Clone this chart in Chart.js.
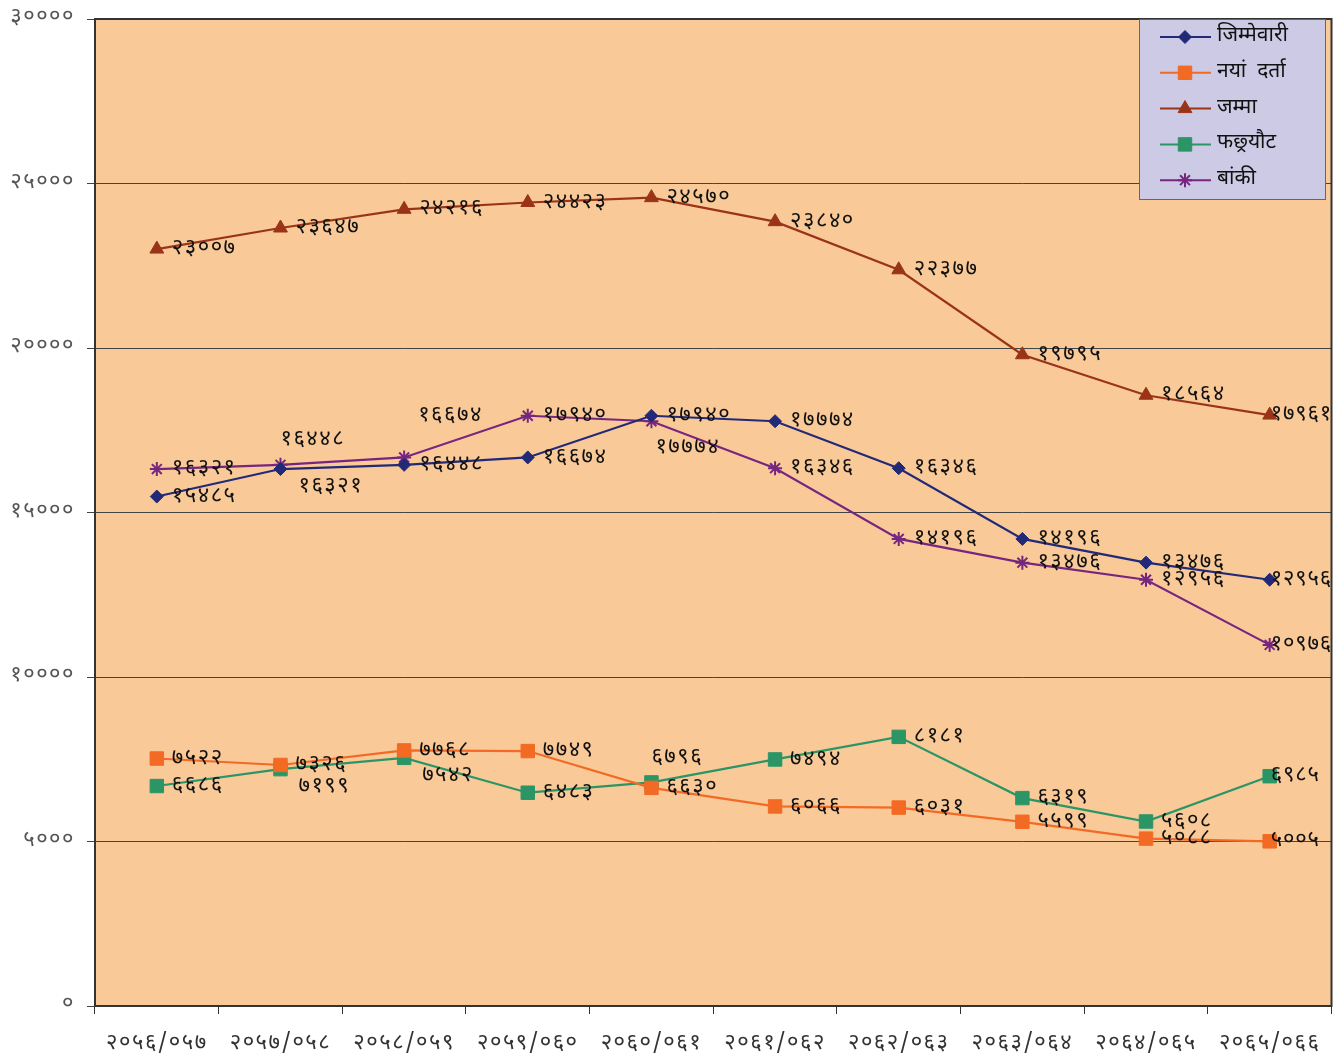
<!DOCTYPE html>
<html>
<head>
<meta charset="utf-8">
<script src="https://cdn.jsdelivr.net/npm/chart.js@4.4.1/dist/chart.umd.min.js"></script>
<style>
html,body{margin:0;padding:0;background:#ffffff;}
canvas{display:block;}
</style>
</head>
<body>
<canvas id="c" width="1342" height="1055"></canvas>
<script>
const categories = ['२०५६/०५७','२०५७/०५८','२०५८/०५९','२०५९/०६०','२०६०/०६१','२०६१/०६२','२०६२/०६३','२०६३/०६४','२०६४/०६५','२०६५/०६६'];
const seriesNames = ['जिम्मेवारी','नयां  दर्ता','जम्मा','फछ्र्यौट','बांकी'];
const jimmewari = [15485,16321,16448,16674,17940,17774,16346,14196,13476,12956];
const nayaDarta = [7522,7326,7768,7749,6630,6066,6031,5599,5088,5005];
const jamma     = [23007,23647,24216,24423,24570,23840,22377,19795,18564,17961];
const phachhyaut= [6686,7199,7542,6483,6796,7494,8181,6319,5608,6985];
const banki     = [16321,16448,16674,17940,17774,16346,14196,13476,12956,10976];
const yTicks = [0,5000,10000,15000,20000,25000,30000];

const DEV = '०१२३४५६७८९';
function toDev(v){ return String(v).replace(/[0-9]/g, d => DEV[+d]); }

const FONT = "'Noto Sans Devanagari','Lohit Devanagari','Noto Sans','DejaVu Sans',sans-serif";

// label placement codes (style only)
const labelPos = [
  ['r','b','r','r','r','r','r','r','r','e'],
  ['r','r','r','r','r','r','r','r','r','e'],
  ['r','r','r','r','r','r','r','r','r','e'],
  ['r','b','b','r','a','r','r','r','r','e'],
  ['r','a','a2','r','b2','r','r','r','r','e']
];
const offsets = {
  r:[15,1], e:[1,1], b:[18,19], b2:[4,28], a:[0,-24], a2:[14,-41]
};

const colors = ['#222a78','#f26a24','#9a3418','#2b9566','#76267f'];
const styles = ['rectRot','rect','triangle','rect','star'];
const radii = [6.5,9.5,8,9.5,7];
const values = [jimmewari,nayaDarta,jamma,phachhyaut,banki];

const datasets = values.map((v,i)=>({
  label: seriesNames[i],
  data: v,
  borderColor: colors[i],
  backgroundColor: colors[i],
  pointBackgroundColor: colors[i],
  pointBorderColor: colors[i],
  pointStyle: styles[i],
  pointRadius: radii[i],
  pointHoverRadius: radii[i],
  pointBorderWidth: styles[i]==='star' ? 2 : 1,
  borderWidth: 2.2,
  tension: 0,
  fill: false
}));

const bgPlugin = {
  id:'bg',
  beforeDraw(chart){
    const {ctx, chartArea:a} = chart;
    ctx.letterSpacing = '1.5px';
    ctx.save();
    ctx.fillStyle = '#f9c998';
    ctx.fillRect(a.left, a.top, a.right-a.left, a.bottom-a.top);
    ctx.restore();
  },
  afterDatasetsDraw(chart){
    const ctx = chart.ctx;
    ctx.save();
    ctx.font = "22px " + FONT;
    ctx.fillStyle = '#111';
    ctx.textAlign = 'left';
    ctx.textBaseline = 'middle';
    chart.data.datasets.forEach((ds,i)=>{
      const meta = chart.getDatasetMeta(i);
      meta.data.forEach((pt,j)=>{
        const code = labelPos[i][j];
        const o = offsets[code];
        ctx.letterSpacing = code === 'e' ? '0.8px' : '1.5px';
        ctx.fillText(toDev(ds.data[j]), pt.x + o[0], pt.y + o[1]);
      });
    });
    ctx.restore();
  },
  afterDraw(chart){
    const {ctx, chartArea:a} = chart;
    ctx.save();
    ctx.strokeStyle = '#333';
    ctx.lineWidth = 2;
    ctx.strokeRect(a.left, a.top, a.right-a.left, a.bottom-a.top);
    // legend
    const lx = 1139, ly = 19, lw = 186, lh = 180;
    ctx.fillStyle = '#cccae5';
    ctx.fillRect(lx, ly, lw, lh);
    ctx.strokeStyle = '#666';
    ctx.lineWidth = 1;
    ctx.strokeRect(lx+0.5, ly+0.5, lw, lh);
    ctx.letterSpacing = '0px';
    ctx.font = "21px " + FONT;
    ctx.textBaseline = 'middle';
    ctx.textAlign = 'left';
    chart.data.datasets.forEach((ds,i)=>{
      const y = 37 + i*35.8;
      ctx.strokeStyle = ds.borderColor;
      ctx.lineWidth = 2;
      ctx.beginPath(); ctx.moveTo(1160,y); ctx.lineTo(1211,y); ctx.stroke();
      ctx.fillStyle = ds.borderColor;
      ctx.lineWidth = ds.pointBorderWidth;
      Chart.helpers.drawPoint(ctx, {pointStyle: ds.pointStyle, radius: ds.pointRadius, rotation:0, borderWidth: ds.pointBorderWidth}, 1185, y);
      ctx.fillStyle = '#111';
      ctx.fillText(ds.label, 1217, y);
    });
    ctx.restore();
  }
};

new Chart(document.getElementById('c'), {
  type:'line',
  data:{ labels: categories, datasets },
  options:{
    responsive:false,
    animation:false,
    devicePixelRatio:1,
    layout:{ padding:{ top:19, right:10, left:0, bottom:0 } },
    plugins:{ legend:{display:false}, tooltip:{enabled:false} },
    scales:{
      x:{
        type:'category',
        offset:true,
        grid:{ offset:true, drawOnChartArea:false, drawTicks:true, tickLength:8, color:'#333' },
        border:{ display:false },
        ticks:{ font:{ size:22, family:FONT }, color:'#333', padding:18, maxRotation:0, autoSkip:false },
        afterFit(s){ s.height = 49; s.paddingLeft = 0; s.paddingRight = 0; }
      },
      y:{
        min:0, max:30000,
        afterBuildTicks(s){ s.ticks = yTicks.map(v=>({value:v})); },
        ticks:{ font:{ size:22, family:FONT }, color:'#555', padding:12, callback:(v)=>toDev(v) },
        grid:{ color:'#444', lineWidth:1, tickLength:8 },
        border:{ display:false },
        afterFit(s){ s.width = 95; s.paddingTop = 0; s.paddingBottom = 0; }
      }
    }
  },
  plugins:[bgPlugin]
});
</script>
</body>
</html>
